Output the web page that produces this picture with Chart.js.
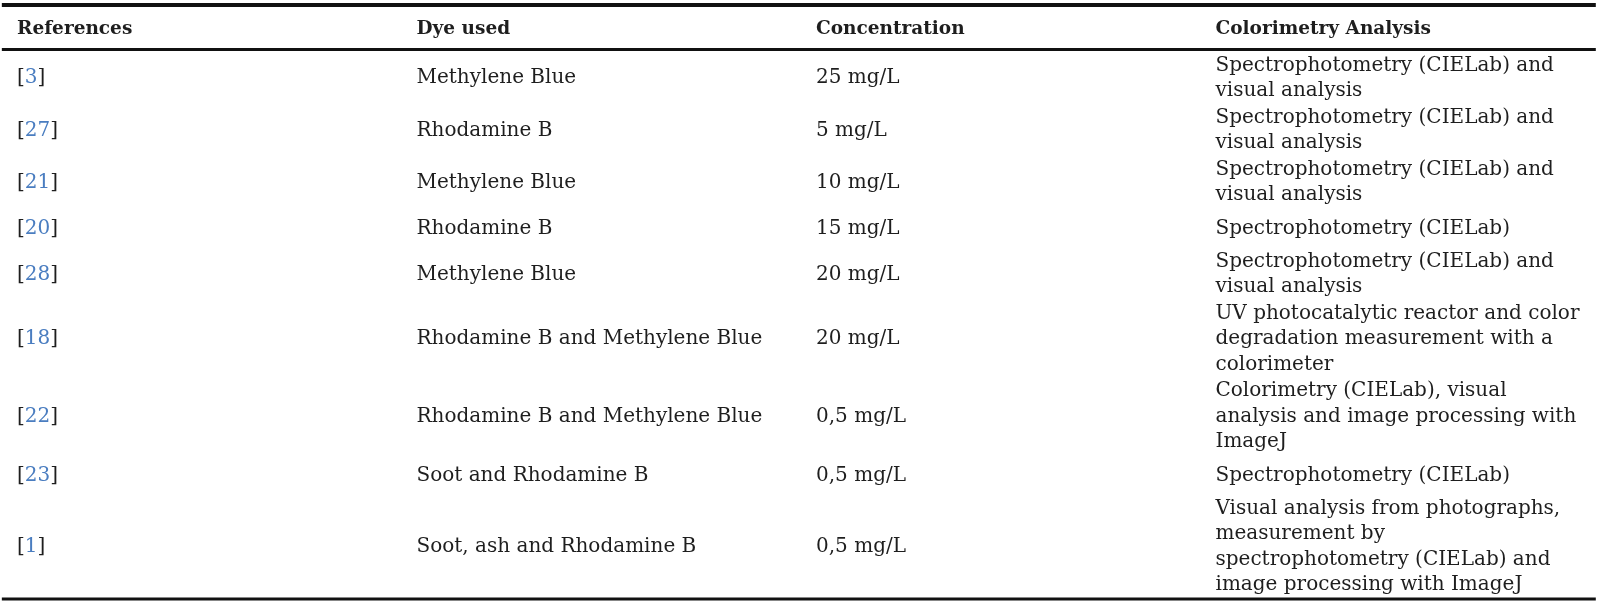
<!DOCTYPE html>
<html>
<head>
<meta charset="utf-8">
<script src="https://cdn.jsdelivr.net/npm/chart.js@4.4.1/dist/chart.umd.min.js"></script>
<style>
  html, body { margin: 0; padding: 0; background: #fff; overflow: hidden; }
  canvas { display: block; }
</style>
</head>
<body>
<canvas id="tableChart" width="1600" height="609"></canvas>
<script>
// table content
const headers = ['References', 'Dye used', 'Concentration', 'Colorimetry Analysis'];
const refNumbers = ['3', '27', '21', '20', '28', '18', '22', '23', '1'];
const dyes = [
    'Methylene Blue', 'Rhodamine B', 'Methylene Blue', 'Rhodamine B', 'Methylene Blue',
    'Rhodamine B and Methylene Blue', 'Rhodamine B and Methylene Blue',
    'Soot and Rhodamine B', 'Soot, ash and Rhodamine B'
];
const concentrations = ['25 mg/L', '5 mg/L', '10 mg/L', '15 mg/L', '20 mg/L', '20 mg/L', '0,5 mg/L', '0,5 mg/L', '0,5 mg/L'];
const analyses = [
    ['Spectrophotometry (CIELab) and', 'visual analysis'],
    ['Spectrophotometry (CIELab) and', 'visual analysis'],
    ['Spectrophotometry (CIELab) and', 'visual analysis'],
    ['Spectrophotometry (CIELab)'],
    ['Spectrophotometry (CIELab) and', 'visual analysis'],
    ['UV photocatalytic reactor and color', 'degradation measurement with a', 'colorimeter'],
    ['Colorimetry (CIELab), visual', 'analysis and image processing with', 'ImageJ'],
    ['Spectrophotometry (CIELab)'],
    ['Visual analysis from photographs,', 'measurement by', 'spectrophotometry (CIELab) and', 'image processing with ImageJ']
];

const FONT = '"DejaVu Serif", "Liberation Serif", serif';
const TEXT = '#1e1e1e';
const LINK = '#4a7dc0';

// row heights in text-line units
const rowHeights = analyses.map(a => a.length > 1 ? a.length + 0.04 : 1.57);
const rowCenters = [];
let acc = 0;
rowHeights.forEach(h => { rowCenters.push(acc + h / 2); acc += h; });
const tableBottom = acc + 0.13;

function cellPoints(col, texts) {
    return texts.map((t, i) => ({ x: col, y: rowCenters[i], text: t }));
}

function rule(y, width) {
    return {
        type: 'line',
        data: [{ x: -0.038, y: y }, { x: 3.952, y: y }],
        borderColor: '#111',
        borderWidth: width,
        pointRadius: 0,
        isRule: true
    };
}

const cellText = {
    id: 'cellText',
    afterDatasetsDraw(chart) {
        const ctx = chart.ctx;
        const ys = chart.scales.y;
        const lineH = Math.abs(ys.getPixelForValue(1) - ys.getPixelForValue(0));
        ctx.save();
        ctx.textBaseline = 'alphabetic';
        ctx.textAlign = 'left';
        chart.data.datasets.forEach((ds, di) => {
            if (ds.isRule) return;
            const meta = chart.getDatasetMeta(di);
            ctx.font = ds.bold ? 'bold 18.5px ' + FONT : '20px ' + FONT;
            meta.data.forEach((el, i) => {
                const item = ds.data[i];
                const lines = Array.isArray(item.text) ? item.text : [item.text];
                lines.forEach((ln, k) => {
                    const y = el.y + (k - (lines.length - 1) / 2) * lineH + 8;
                    if (ds.isRef) {
                        let x = el.x;
                        ctx.fillStyle = TEXT;
                        ctx.fillText('[', x, y);
                        x += ctx.measureText('[').width;
                        ctx.fillStyle = LINK;
                        ctx.fillText(ln, x, y);
                        x += ctx.measureText(ln).width;
                        ctx.fillStyle = TEXT;
                        ctx.fillText(']', x, y);
                    } else {
                        ctx.fillStyle = TEXT;
                        ctx.fillText(ln, el.x, y);
                    }
                });
            });
        });
        ctx.restore();
    }
};

const textSet = (data, extra) => Object.assign({
    type: 'scatter', data: data, pointRadius: 0, pointHoverRadius: 0, showLine: false
}, extra || {});

new Chart(document.getElementById('tableChart').getContext('2d'), {
    type: 'scatter',
    data: {
        datasets: [
            rule(-1.744, 4),
            rule(0, 3),
            rule(tableBottom, 3),
            textSet(headers.map((h, i) => ({ x: i, y: -0.92, text: h })), { bold: true }),
            textSet(cellPoints(0, refNumbers), { isRef: true }),
            textSet(cellPoints(1, dyes)),
            textSet(cellPoints(2, concentrations)),
            textSet(cellPoints(3, analyses))
        ]
    },
    options: {
        responsive: false,
        animation: false,
        events: [],
        layout: { padding: 0 },
        plugins: { legend: { display: false }, tooltip: { enabled: false } },
        scales: {
            x: { type: 'linear', min: -0.0426, max: 3.9625, display: false },
            y: { type: 'linear', reverse: true, min: -1.94, max: 21.94, display: false }
        }
    },
    plugins: [cellText]
});
</script>
</body>
</html>
